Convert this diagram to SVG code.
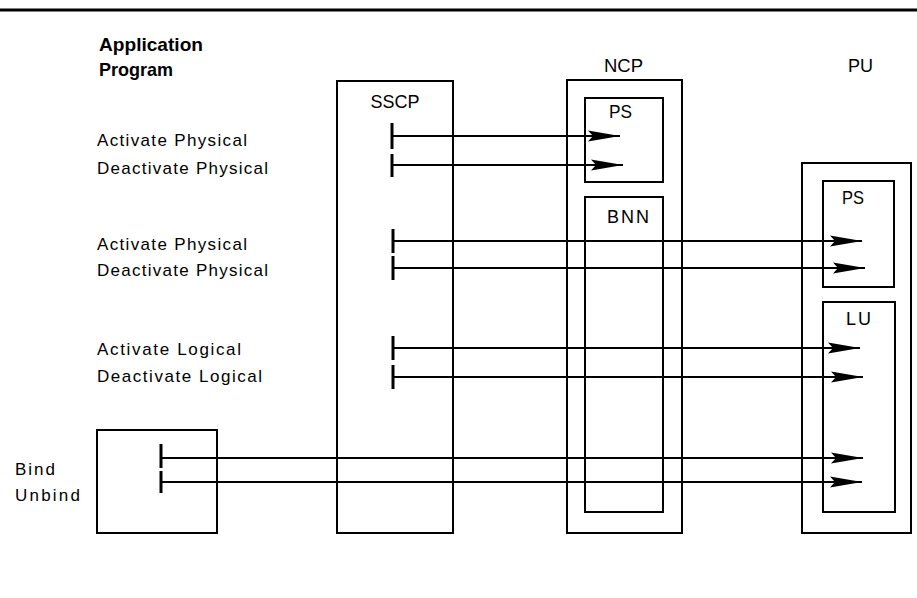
<svg xmlns="http://www.w3.org/2000/svg" width="917" height="598" viewBox="0 0 917 598">
<style>
.box{fill:none;stroke:#000;stroke-width:2}
.lbl{font-family:"Liberation Sans",Arial,sans-serif;font-size:17px;fill:#000}
.hd{font-family:"Liberation Sans",Arial,sans-serif;font-size:19px;font-weight:bold;fill:#000}
.msg{font-family:"Liberation Sans",Arial,sans-serif;font-size:17px;fill:#000}
.ln{stroke:#000;stroke-width:2;fill:none;marker-end:url(#ah)}
.tk{stroke:#000;stroke-width:3}
</style>
<defs>
<marker id="ah" markerUnits="userSpaceOnUse" markerWidth="34" markerHeight="14" refX="32" refY="7" orient="auto">
<path d="M0,1.5 L32,7 L0,12.5 L5,7 Z" fill="#000"/>
</marker>
</defs>
<rect width="917" height="598" fill="#fff"/>
<line x1="0" y1="10" x2="917" y2="10" stroke="#000" stroke-width="3"/>

<g id="app">
<text class="hd" x="99" y="51" textLength="104" lengthAdjust="spacingAndGlyphs">Application</text>
<text class="hd" x="99" y="76" textLength="74" lengthAdjust="spacingAndGlyphs">Program</text>
<rect class="box" x="97" y="430" width="120" height="103"/>
</g>

<g id="labels">
<text class="msg" x="97" y="146" textLength="150" lengthAdjust="spacing">Activate Physical</text>
<text class="msg" x="97" y="174" textLength="171" lengthAdjust="spacing">Deactivate Physical</text>
<text class="msg" x="97" y="250" textLength="150" lengthAdjust="spacing">Activate Physical</text>
<text class="msg" x="97" y="276" textLength="171" lengthAdjust="spacing">Deactivate Physical</text>
<text class="msg" x="97" y="355" textLength="144" lengthAdjust="spacing">Activate Logical</text>
<text class="msg" x="97" y="382" textLength="165" lengthAdjust="spacing">Deactivate Logical</text>
<text class="msg" x="15" y="475" textLength="40" lengthAdjust="spacing">Bind</text>
<text class="msg" x="15" y="501" textLength="65" lengthAdjust="spacing">Unbind</text>
</g>

<g id="sscp">
<rect class="box" x="337" y="81" width="116" height="452"/>
<text class="lbl" x="395" y="108" text-anchor="middle" style="font-size:18px">SSCP</text>
</g>

<g id="ncp">
<text class="lbl" x="604" y="72" style="font-size:18px" textLength="39" lengthAdjust="spacingAndGlyphs">NCP</text>
<rect class="box" x="567" y="80" width="115" height="453"/>
</g>
<g id="ncp-ps">
<rect class="box" x="585" y="98" width="78" height="84"/>
<text class="lbl" x="609" y="118" style="font-size:18px" textLength="23" lengthAdjust="spacingAndGlyphs">PS</text>
</g>
<g id="bnn">
<rect class="box" x="585" y="197" width="78" height="315"/>
<text class="lbl" x="607" y="223" style="font-size:18px" textLength="42" lengthAdjust="spacing">BNN</text>
</g>

<g id="pu">
<text class="lbl" x="848" y="72" style="font-size:18px" textLength="25" lengthAdjust="spacingAndGlyphs">PU</text>
<rect class="box" x="802" y="163" width="109" height="370"/>
</g>
<g id="pu-ps">
<rect class="box" x="823" y="181" width="71" height="106"/>
<text class="lbl" x="842" y="204" style="font-size:18px" textLength="22" lengthAdjust="spacingAndGlyphs">PS</text>
</g>
<g id="lu">
<rect class="box" x="823" y="302" width="72" height="210"/>
<text class="lbl" x="846" y="325" style="font-size:18px" textLength="25" lengthAdjust="spacing">LU</text>
</g>

<g id="connectors">
<line class="tk" x1="392" y1="123" x2="392" y2="149"/>
<line class="tk" x1="392" y1="154" x2="392" y2="177"/>
<line class="ln" x1="392" y1="136" x2="620" y2="136"/>
<line class="ln" x1="392" y1="165" x2="623" y2="165"/>

<line class="tk" x1="393" y1="229" x2="393" y2="253"/>
<line class="tk" x1="393" y1="256" x2="393" y2="280"/>
<line class="ln" x1="393" y1="241" x2="862" y2="241"/>
<line class="ln" x1="393" y1="268" x2="865" y2="268"/>

<line class="tk" x1="393" y1="336" x2="393" y2="360"/>
<line class="tk" x1="393" y1="365" x2="393" y2="389"/>
<line class="ln" x1="393" y1="348" x2="860" y2="348"/>
<line class="ln" x1="393" y1="377" x2="863" y2="377"/>

<line class="tk" x1="161" y1="444" x2="161" y2="468"/>
<line class="tk" x1="161" y1="471" x2="161" y2="493"/>
<line class="ln" x1="161" y1="458" x2="863" y2="458"/>
<line class="ln" x1="161" y1="482" x2="862" y2="482"/>
</g>
</svg>
